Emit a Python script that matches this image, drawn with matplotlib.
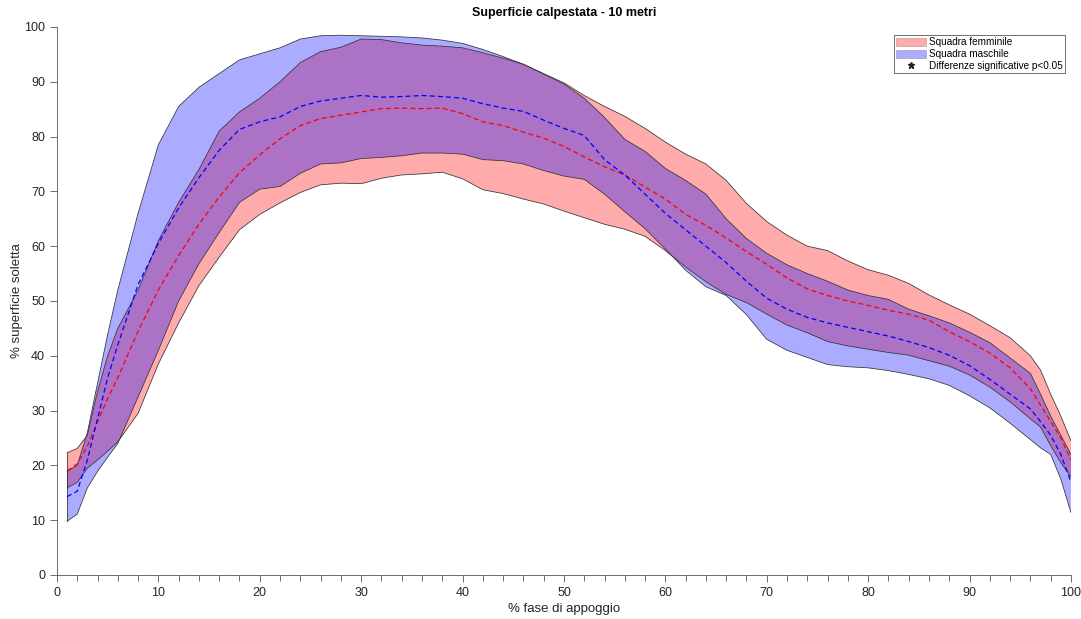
import matplotlib
matplotlib.use("Agg")

import matplotlib.pyplot as plt
import numpy as np
from matplotlib.lines import Line2D
from matplotlib.patches import Patch

plt.rcParams["font.family"] = ["Liberation Sans", "DejaVu Sans"]

# ─── Data: % area of insole in contact vs % stance phase ─────────────────────

fase = [1, 2, 3, 4, 5, 6, 8, 10, 12, 14, 16, 18, 20, 22, 24, 26, 28, 30, 32, 34,
        36, 38, 40, 42, 44, 46, 48, 50, 52, 54, 56, 58, 60, 62, 64, 66, 68, 70,
        72, 74, 76, 78, 80, 82, 84, 86, 88, 90, 92, 94, 96, 97, 98, 99, 100]

# female team: mean and band edges
f_media = [19.0, 20.3, 23.5, 28.0, 32.2, 36.0, 44.5, 52.0, 58.3, 64.0, 69.0,
           73.4, 76.7, 79.6, 82.0, 83.3, 83.9, 84.5, 85.1, 85.2, 85.1, 85.2,
           84.2, 82.7, 82.0, 80.8, 79.7, 78.2, 76.3, 74.5, 73.0, 70.8, 68.6,
           65.8, 63.8, 61.5, 59.0, 56.7, 54.2, 52.2, 51.0, 50.0, 49.2, 48.3,
           47.6, 46.5, 44.4, 42.6, 40.5, 37.8, 34.0, 31.0, 28.0, 25.0, 21.0]
f_sup = [22.3, 23.1, 25.5, 33.5, 40.0, 45.0, 52.0, 61.0, 68.0, 74.0, 81.0,
         84.5, 87.0, 90.0, 93.5, 95.5, 96.3, 97.8, 97.7, 97.1, 96.7, 96.5,
         96.2, 95.3, 94.3, 93.2, 91.5, 89.8, 87.5, 85.5, 83.7, 81.5, 79.0,
         76.8, 75.0, 72.0, 67.8, 64.5, 62.0, 60.0, 59.2, 57.3, 55.7, 54.7,
         53.2, 51.1, 49.3, 47.6, 45.5, 43.3, 40.0, 37.4, 33.0, 29.0, 24.5]
f_inf = [15.9, 16.9, 19.5, 21.0, 22.6, 24.3, 29.5, 38.5, 46.0, 52.8, 58.0,
         63.0, 65.8, 67.9, 69.8, 71.2, 71.5, 71.4, 72.4, 73.0, 73.2, 73.5,
         72.3, 70.3, 69.6, 68.6, 67.7, 66.4, 65.2, 64.0, 63.1, 61.8, 59.2,
         56.2, 53.5, 51.2, 49.7, 47.6, 45.6, 44.2, 42.6, 41.8, 41.2, 40.6,
         40.1, 39.1, 38.1, 36.5, 34.3, 31.6, 28.5, 27.0, 23.6, 20.5, 17.9]

# male team: mean and band edges
m_media = [14.3, 15.3, 21.0, 28.5, 36.0, 42.0, 53.0, 60.5, 67.0, 72.5, 77.5,
           81.3, 82.7, 83.6, 85.5, 86.5, 87.0, 87.5, 87.2, 87.3, 87.5, 87.3,
           87.0, 86.0, 85.2, 84.6, 83.0, 81.5, 80.2, 75.8, 73.0, 69.5, 66.0,
           63.0, 60.0, 57.0, 53.6, 50.5, 48.5, 47.0, 46.0, 45.2, 44.4, 43.6,
           42.6, 41.5, 40.1, 38.2, 35.7, 33.0, 30.3, 28.0, 25.5, 22.0, 17.0]
m_sup = [18.9, 20.0, 26.0, 35.0, 43.9, 52.0, 66.0, 78.5, 85.5, 89.0, 91.5,
         94.0, 95.1, 96.2, 97.8, 98.4, 98.5, 98.4, 98.3, 98.2, 98.0, 97.6,
         97.0, 95.9, 94.6, 93.2, 91.4, 89.6, 87.0, 83.5, 79.5, 77.3, 74.2,
         72.0, 69.5, 65.0, 61.4, 58.7, 56.6, 55.0, 53.6, 52.0, 51.0, 50.3,
         48.5, 47.3, 46.0, 44.3, 42.4, 39.6, 36.8, 33.0, 29.0, 25.5, 22.0]
m_inf = [9.8, 11.1, 15.9, 18.9, 21.5, 24.0, 32.5, 41.0, 50.0, 56.8, 62.5,
         68.0, 70.4, 70.9, 73.3, 75.0, 75.2, 76.0, 76.2, 76.5, 77.0, 77.0,
         76.8, 75.8, 75.6, 75.0, 73.8, 72.8, 72.2, 69.5, 66.3, 63.2, 59.5,
         55.6, 52.6, 51.0, 47.5, 43.0, 41.0, 39.7, 38.4, 38.0, 37.8, 37.3,
         36.6, 35.8, 34.6, 32.7, 30.5, 27.7, 24.7, 23.2, 22.0, 17.5, 11.4]

# ─── Figure ──────────────────────────────────────────────────────────────────

fig = plt.figure(figsize=(10.81, 6.19), dpi=100)
ax = fig.add_axes([0.0527, 0.0711, 0.938, 0.8853])

x = np.array(fase)
alpha = 0.33
edge_kw = dict(color="#333333", lw=0.55)

ax.fill_between(x, f_inf, f_sup, facecolor="red", alpha=alpha, linewidth=0)
ax.fill_between(x, m_inf, m_sup, facecolor="blue", alpha=alpha, linewidth=0)

for edge in (f_sup, f_inf, m_sup, m_inf):
    ax.plot(x, edge, **edge_kw)
# closing edges of each band at both ends
for lo, hi in ((f_inf, f_sup), (m_inf, m_sup)):
    ax.plot([x[0], x[0]], [lo[0], hi[0]], **edge_kw)
    ax.plot([x[-1], x[-1]], [lo[-1], hi[-1]], **edge_kw)

ax.plot(x, f_media, color="red", lw=0.9, dashes=(4, 2.5))
ax.plot(x, m_media, color="blue", lw=0.9, dashes=(4, 2.5))

# ─── Axes styling (MATLAB-like, box off) ─────────────────────────────────────

ax.set_xlim(0, 100)
ax.set_ylim(0, 100)
ax.set_xticks(np.arange(0, 101, 10))
ax.set_xticks(np.arange(0, 101, 2), minor=True)
ax.set_yticks(np.arange(0, 101, 10))

for side in ("top", "right"):
    ax.spines[side].set_visible(False)
for side in ("left", "bottom"):
    ax.spines[side].set_color("#555555")
    ax.spines[side].set_linewidth(0.6)

ax.tick_params(axis="both", which="both", direction="out", colors="#555555",
               width=0.6, labelcolor="#262626", labelsize=9)
ax.tick_params(axis="both", which="major", length=5)
ax.tick_params(axis="x", which="minor", length=4)

ax.set_title("Superficie calpestata - 10 metri", fontsize=9, fontweight="bold",
             pad=8)
ax.set_xlabel("% fase di appoggio", fontsize=9.5, color="#262626", labelpad=3)
ax.set_ylabel("% superficie soletta", fontsize=9.5, color="#262626", labelpad=1)

handles = [
    Patch(facecolor="red", alpha=alpha, edgecolor="#333333", linewidth=0.5),
    Patch(facecolor="blue", alpha=alpha, edgecolor="#333333", linewidth=0.5),
    Line2D([], [], linestyle="none", marker="*", color="#222222",
           markersize=4.5),
]
labels = ["Squadra femminile", "Squadra maschile",
          "Differenze significative p<0.05"]
leg = ax.legend(handles, labels, loc="upper right",
                bbox_to_anchor=(0.994, 0.985), borderaxespad=0, fontsize=7.2,
                handlelength=3.0, handleheight=0.9, handletextpad=0.3,
                labelspacing=0.2, borderpad=0.2, fancybox=False,
                framealpha=1)
leg.get_frame().set_edgecolor("#555555")
leg.get_frame().set_linewidth(0.6)

fig.savefig("out.png", dpi=100)
